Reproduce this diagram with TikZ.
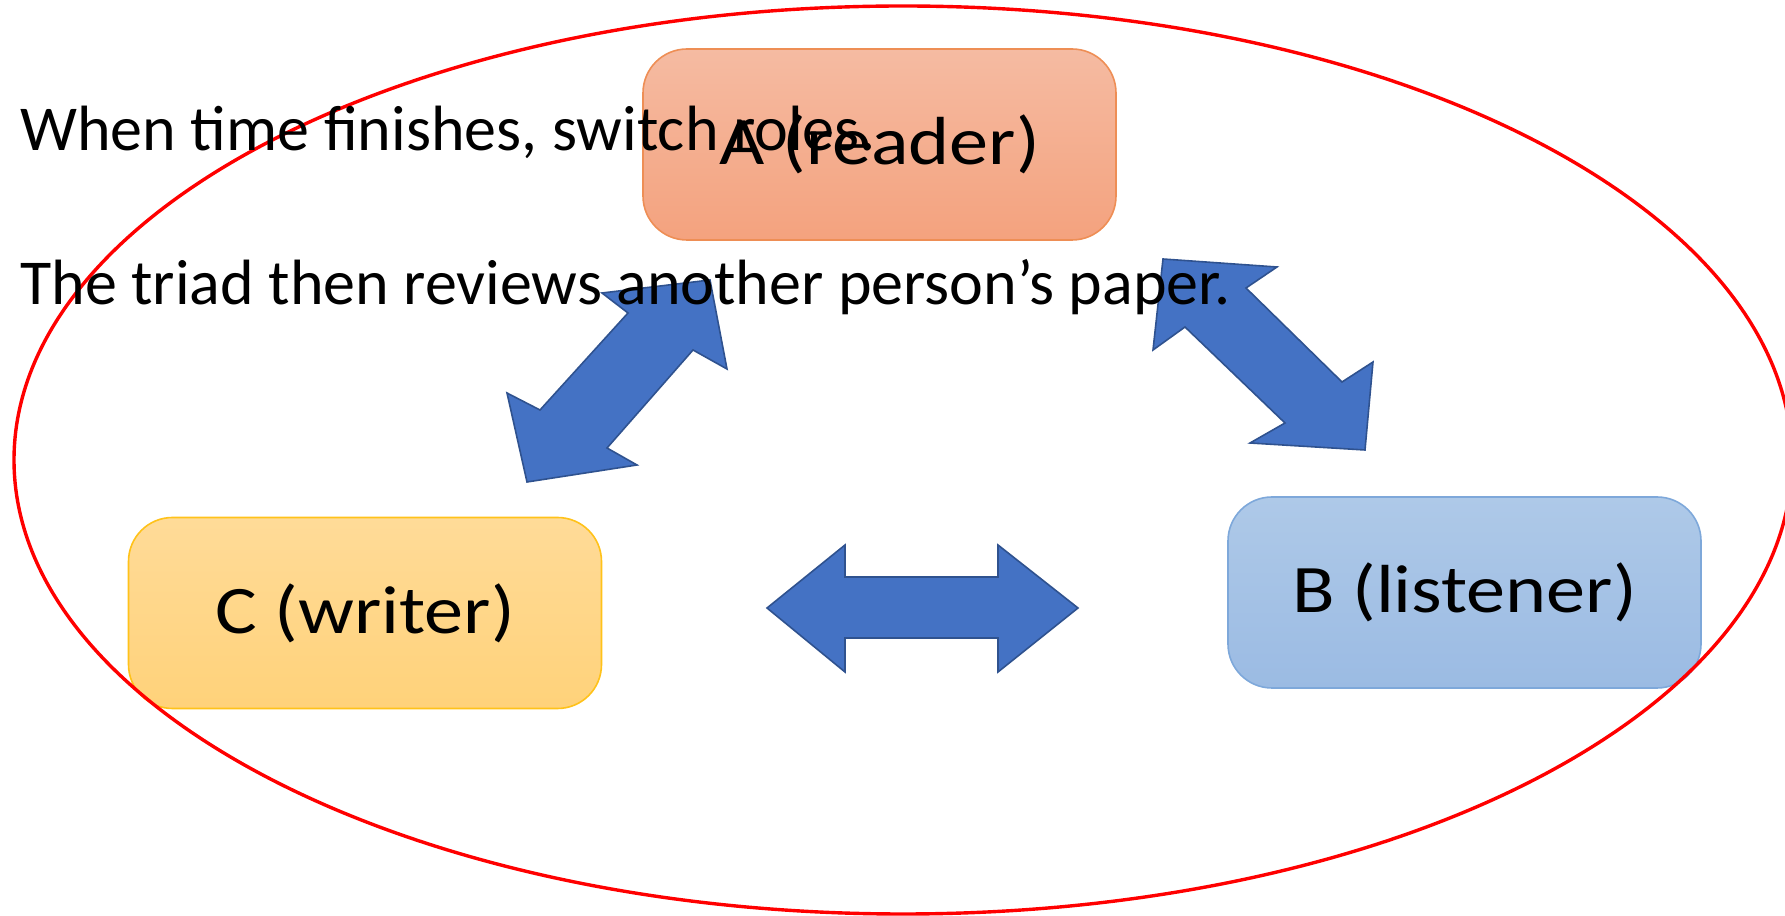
\documentclass[tikz,border=0pt]{standalone}
\usepackage{fontspec}
\setmainfont{Carlito}
\usepackage{graphicx}

\definecolor{readertop}{HTML}{F5BBA2}
\definecolor{readerbot}{HTML}{F4A27E}
\definecolor{readerline}{HTML}{EE8E55}
\definecolor{writertop}{HTML}{FFDB98}
\definecolor{writerbot}{HTML}{FFD27A}
\definecolor{writerline}{HTML}{FFC21A}
\definecolor{listenertop}{HTML}{AEC9E8}
\definecolor{listenerbot}{HTML}{9BBBE3}
\definecolor{listenerline}{HTML}{7EA8DA}
\definecolor{arrowfill}{HTML}{4472C4}
\definecolor{arrowline}{HTML}{2F528F}

\begin{document}
\begin{tikzpicture}[x=0.5pt,y=0.5pt,
        bigarrow/.style={fill=arrowfill,draw=arrowline,line width=0.8pt},
        roletext/.style={font=\fontsize{34}{40}\selectfont}]
        \useasboundingbox (0,0) rectangle (1785,916);
        \clip (0,0) rectangle (1785,916);

        \begin{scope}[every node/.style={rectangle,rounded corners=22pt,line width=0.8pt,
                minimum width=236.5pt,minimum height=95.5pt,roletext}]
            \node[top color=readertop,bottom color=readerbot,draw=readerline] (a) at (879.5,771.5) {\scalebox{1.15}[1]{A (reader)}};
            \node[top color=listenertop,bottom color=listenerbot,draw=listenerline] (b) at (1464.5,323.5) {\scalebox{1.15}[1]{B (listener)}};
            \node[top color=writertop,bottom color=writerbot,draw=writerline] (c) at (365,303) {\scalebox{1.15}[1]{C (writer)}};
        \end{scope}

        % tips of the three double arrows
        \coordinate (ca-a) at (710,636);
        \coordinate (ca-c) at (527,434);
        \coordinate (ab-a) at (1163,657);
        \coordinate (ab-b) at (1365,466);
        \coordinate (cb-c) at (767,308);
        \coordinate (cb-b) at (1078,308);

        \filldraw[bigarrow] (ca-a) -- (727,547) -- (693,566) -- (607,468) -- (637,451) -- (ca-c)
            -- (507,523) -- (540,506) -- (628,603) -- (602,623) -- cycle;
        \filldraw[bigarrow] (ab-a) -- (1277,649) -- (1246,628) -- (1342,534) -- (1373,554) -- (ab-b)
            -- (1250,473) -- (1285,493) -- (1185,589) -- (1153,566) -- cycle;
        \filldraw[bigarrow] (cb-c) -- (845,371) -- (845,339) -- (998,339) -- (998,371) -- (cb-b)
            -- (998,244) -- (998,278) -- (845,278) -- (845,244) -- cycle;

        \draw[red,line width=1.7pt] (903,456) ellipse [x radius=444.5pt,y radius=227pt];

        \begin{scope}[every node/.style={anchor=base west,inner sep=0pt,font=\fontsize{32}{38}\selectfont}]
            \node (roles) at (20,765) {When time finishes, switch roles.};
            \node (triad) at (20,611) {The triad then reviews another person’s paper.};
        \end{scope}
    \end{tikzpicture}
\end{document}
